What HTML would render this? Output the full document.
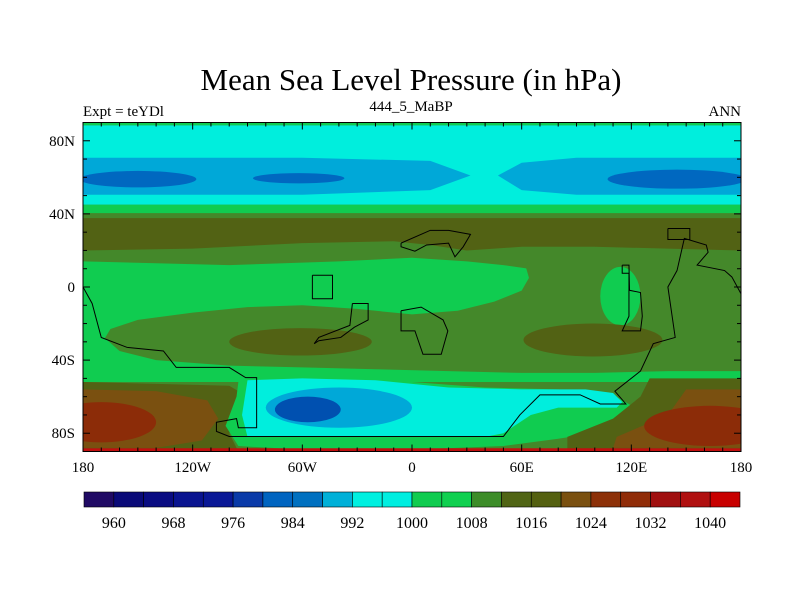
<!DOCTYPE html>
<html><head><meta charset="utf-8"><style>
body{margin:0;background:#fff}
svg text{font-family:"Liberation Serif",serif;fill:#000}
</style></head><body>
<svg id="chart" width="800" height="600" xmlns="http://www.w3.org/2000/svg">
<text x="411" y="90" font-size="31" text-anchor="middle">Mean Sea Level Pressure (in hPa)</text>
<text x="83" y="116" font-size="15">Expt = teYDl</text>
<text x="411" y="111" font-size="15" text-anchor="middle">444_5_MaBP</text>
<text x="741" y="116" font-size="15" text-anchor="end">ANN</text>
<defs><clipPath id="pc"><rect x="83" y="122.5" width="658" height="329"/></clipPath></defs>
<g id="map" clip-path="url(#pc)"></g>
<g id="coast" clip-path="url(#pc)"></g>
<g id="axes"></g>
<g id="cbar"></g>
</svg>
<script>
const C={g1:"#10cc50",g2:"#44882a",ol:"#526214",br:"#7a5010",rd:"#8c2c08",red:"#c01010",cy:"#00eedd",b1:"#00a8d8",b2:"#0068c0",b3:"#0050b0"};
// contour layers: [colorKey, lon/lat polygon]
const polys=[
["g2",[[-180,90],[180,90],[180,-90],[-180,-90]]],
["cy",[[-180,88.5],[180,88.5],[180,45],[-180,45]]],
["g1",[[-180,90],[180,90],[180,88.5],[-180,88.5]]],
["b1",[[-180,70.7],[-60,70.7],[10,69],[32,61],[10,53],[-60,50.5],[-180,50.5]]],
["b1",[[180,70.7],[90,70.7],[60,68],[47,61],[60,53],[90,50.5],[180,50.5]]],
["g1",[[-180,45],[180,45],[180,40.4],[-180,40.4]]],
["ol",[[-180,37.7],[180,37.7],[180,20],[140,21],[100,22],[60,22],[30,20],[10,23],[-10,25],[-60,24],[-120,21],[-180,20]]],
["g1",[[-180,14],[-100,12],[-40,14],[0,16],[30,14],[50,12],[64,10],[180,10],[180,-52],[-180,-52]]],
["g2",[[-165,-23],[-150,-18],[-120,-14],[-90,-11],[-60,-10],[-30,-12],[0,-15],[25,-13],[45,-8],[60,-2],[64,5],[62,12],[64,14],[180,14],[180,-46],[140,-46],[100,-47],[60,-47],[20,-46],[-20,-45],[-60,-44],[-100,-43],[-140,-40],[-160,-35],[-168,-28]]],
["ol",[[-180,-52],[-140,-53],[-100,-54],[-90,-60],[-95,-70],[-100,-80],[-95,-90],[-180,-90]]],
["br",[[-180,-56],[-140,-57],[-112,-62],[-106,-72],[-115,-84],[-140,-88],[-180,-88]]],
["g1",[[-95,-52],[-60,-51],[0,-52],[40,-55],[80,-56],[110,-59],[122,-66],[112,-78],[80,-83],[50,-87],[0,-89],[-60,-89],[-95,-87],[-102,-76],[-96,-60]]],
["cy",[[-90,-51],[-60,-50],[-20,-51],[20,-55],[60,-56],[95,-56],[110,-58],[115,-63],[112,-66],[80,-66],[65,-70],[50,-80],[40,-82],[-90,-82],[-93,-70]]],
["ol",[[130,-50],[180,-50],[180,-90],[85,-90],[85,-82],[110,-72],[125,-60]]],
["br",[[150,-56],[180,-56],[180,-88],[110,-88],[112,-82],[140,-70]]],
["red",[[-180,-88.2],[180,-88.2],[180,-90],[-180,-90]]]
];
// ellipses: [colorKey, centerLon, centerLat, radiusLon, radiusLat]
const ells=[
["b2",-150,59,32,4.5],["b2",-62,59.5,25,2.8],["b2",145,59,38,5.2],
["g1",114,-5,11,16],
["ol",-61,-30,39,7.5],["ol",99,-29,38,9],
["rd",-170,-74,30,11],["rd",163,-76,36,11],
["b1",-40,-66,40,11],["b3",-57,-67,18,7]
];
const coasts=[
[[-180,0],[-175,-9],[-170,-27.6],[-156,-33],[-136,-35],[-129,-44],[-100,-44],[-91,-49.6],[-85,-49.6],[-85,-77],[-95,-77],[-96,-72],[-107,-74],[-107,-79],[-100,-81.8],[50,-81.8],[59,-70],[70,-59],[92,-59],[103,-64],[117,-64],[111,-57],[125,-46],[132,-31],[144,-27.6],[140,0],[145,9],[149,26.6],[161,23],[162,19],[156,12],[171,9],[175,5.5],[180,-3.7]],
[[-6,24],[10,31],[20,31],[32,28.8],[28,22],[23.5,16.5],[20,24],[8,23],[1.6,19.6],[-6,22],[-6,24]],
[[-6,-13],[5,-11],[17,-18],[19.6,-24],[16,-36.8],[6,-36.8],[1.6,-24],[-6,-24],[-6,-13]],
[[-32.6,-9],[-24,-9],[-24,-18],[-31.5,-22],[-39,-27.6],[-51,-29.4],[-53.5,-31],[-51,-27.6],[-34,-21],[-32.6,-9]],
[[-54.5,6.4],[-43.5,6.4],[-43.5,-6.4],[-54.5,-6.4],[-54.5,6.4]],
[[115,12],[118.7,12],[119,-1.8],[125,-3],[126,-16],[125,-24],[115,-24],[118.7,-16],[118.7,7.5],[115,7.5],[115,12]],
[[140,32],[152,32],[152,26],[140,26],[140,32]]
];
const xTicks=[-180,-120,-60,0,60,120,180];
const xLabels=["180","120W","60W","0","60E","120E","180"];
const yTicks=[80,40,0,-40,-80];
const yLabels=["80N","40N","0","40S","80S"];
const levels=[960,964,968,972,976,980,984,988,992,996,1000,1004,1008,1012,1016,1020,1024,1028,1032,1036,1040];
const cbColors=["#200a64","#0a0a78","#0a0c82","#0a1490","#0a1896","#0a3aa8","#0064c0","#0070c0","#00b0d8","#00f0e0","#00eee0","#10cc50","#10d050","#3c8c28","#506414","#546010","#7a5010","#8c3008","#902c08","#a01010","#b01010","#c80000"];
const cbLabels=[960,968,976,984,992,1000,1008,1016,1024,1032,1040];

const X0=83,X1=741,Y0=122.5,Y1=451.5;
const sx=lon=>X0+(lon+180)/360*(X1-X0);
const sy=lat=>Y0+(90-lat)/180*(Y1-Y0);
const NS="http://www.w3.org/2000/svg";
function mk(t,p,a){const e=document.createElementNS(NS,t);for(const k in a)e.setAttribute(k,a[k]);p.appendChild(e);return e;}
const map=document.getElementById('map');
polys.forEach((p,i)=>{const e=mk('polygon',map,{points:p[1].map(q=>sx(q[0])+','+sy(q[1])).join(' '),fill:C[p[0]]});

});
ells.forEach(p=>{const e=mk('ellipse',map,{cx:sx(p[1]),cy:sy(p[2]),rx:p[3]*(X1-X0)/360,ry:p[4]*(Y1-Y0)/180,fill:C[p[0]]});

});
const co=document.getElementById('coast');
coasts.forEach(c=>{const e=mk('polyline',co,{points:c.map(q=>sx(q[0])+','+sy(q[1])).join(' '),fill:'none',stroke:'#000','stroke-width':1});

});
const ax=document.getElementById('axes');
const fr=mk('rect',ax,{x:X0,y:Y0,width:X1-X0,height:Y1-Y0,fill:'none',stroke:'#000','stroke-width':1});


for(let l=-180;l<=180;l+=10){const L=(l%60==0)?7:4;
mk('line',ax,{x1:sx(l),x2:sx(l),y1:Y0,y2:Y0+L,stroke:'#000'});mk('line',ax,{x1:sx(l),x2:sx(l),y1:Y1,y2:Y1-L,stroke:'#000'});}
for(let l=-90;l<=90;l+=10){const L=(l%40==0)?7:4;
mk('line',ax,{x1:X0,x2:X0+L,y1:sy(l),y2:sy(l),stroke:'#000'});mk('line',ax,{x1:X1,x2:X1-L,y1:sy(l),y2:sy(l),stroke:'#000'});}
xTicks.forEach((v,i)=>{const t=mk('text',ax,{x:sx(v),y:472,'font-size':15,'text-anchor':'middle'});t.textContent=xLabels[i];

});
yTicks.forEach((v,i)=>{const t=mk('text',ax,{x:75,y:sy(v)+5,'font-size':15,'text-anchor':'end'});t.textContent=yLabels[i];

});
const cb=document.getElementById('cbar');
const CB0=84,CB1=740,bw=(CB1-CB0)/cbColors.length;
cbColors.forEach((c,i)=>{const r=mk('rect',cb,{x:CB0+i*bw,y:492,width:bw,height:15,fill:c,stroke:'#000','stroke-width':0.6});

});
cbLabels.forEach(v=>{const i=levels.indexOf(v);const t=mk('text',cb,{x:CB0+(i+1)*bw,y:528,'font-size':16,'text-anchor':'middle'});t.textContent=v;

});
</script>
</body></html>
